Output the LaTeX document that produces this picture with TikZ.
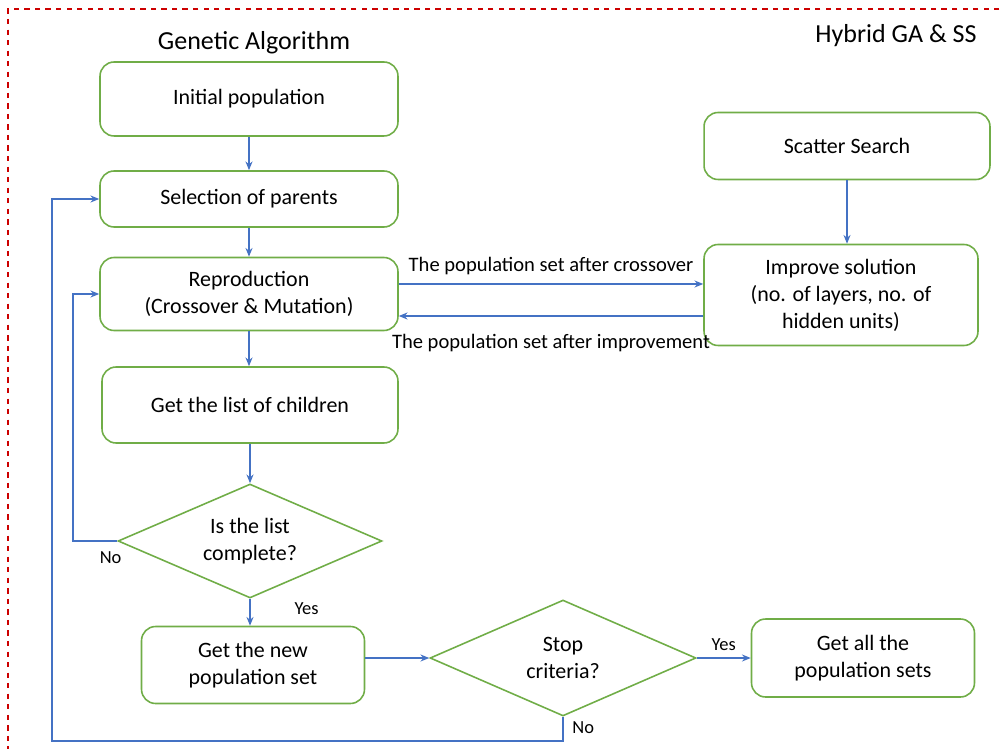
\documentclass[tikz,border=0pt]{standalone}
\usepackage{fontspec}
\setmainfont{Carlito}
\usetikzlibrary{shapes.geometric,arrows.meta}

\definecolor{boxgreen}{RGB}{112,173,71}
\definecolor{flowblue}{RGB}{68,114,196}
\definecolor{framered}{RGB}{204,0,0}

\tikzset{
  stepbox/.style={draw=boxgreen, line width=0.9pt, rounded corners=8pt, fill=white,
    align=center, font=\fontsize{12.5}{15.4}\selectfont, inner sep=2pt},
  choice/.style={draw=boxgreen, line width=0.9pt, diamond, aspect=2.3, inner sep=0pt, align=center,
    font=\fontsize{12.5}{15.4}\selectfont, minimum width=5.28cm, minimum height=2.28cm},
  flow/.style={draw=flowblue, line width=0.7pt, -{Stealth[length=5pt,width=4pt]}},
  lbl/.style={font=\fontsize{11.7}{13}\selectfont, inner sep=1pt},
  tiny/.style={font=\fontsize{10.5}{12}\selectfont, inner sep=1pt}
}

\begin{document}
\begin{tikzpicture}[x=0.02cm, y=-0.02cm]
    \useasboundingbox (0,0) rectangle (1003,749);
    % Frame
    \draw[framered, dashed, line width=0.7pt] (1010,9) -| (8,760);

    % Titles
    \node[font=\fontsize{14.8}{17}\selectfont] (gatitle) at (254,43) {Genetic Algorithm};
    \node[font=\fontsize{14.8}{17}\selectfont] (hytitle) at (896,36) {Hybrid GA \& SS};

    % Nodes
    \node[stepbox, minimum width=5.96cm, minimum height=1.48cm] (init) at (249,99) {Initial population};
    \node[stepbox, minimum width=5.96cm, minimum height=1.12cm] (select) at (249,199) {Selection of parents};
    \node[stepbox, minimum width=5.96cm, minimum height=1.46cm] (repro) at (249,294) {Reproduction\\(Crossover \& Mutation)};
    \node[stepbox, minimum width=5.92cm, minimum height=1.52cm] (children) at (250,405) {Get the list of children};
    \node[choice] (complete) at (250,541) {Is the list\\complete?};
    \node[stepbox, minimum width=4.46cm, minimum height=1.54cm] (newpop) at (253,665) {Get the new\\population set};
    \node[choice, minimum width=5.32cm, minimum height=2.32cm] (stop) at (563,658) {Stop\\criteria?};
    \node[stepbox, minimum width=4.46cm, minimum height=1.56cm] (allsets) at (863,658) {Get all the\\population sets};
    \node[stepbox, minimum width=5.72cm, minimum height=1.34cm] (scatter) at (847,146) {Scatter Search};
    \node[stepbox, minimum width=5.48cm, minimum height=2.02cm] (improve) at (841,295) {Improve solution\\(no. of layers, no. of\\hidden units)};

    \coordinate (nobend) at (73,541);
    \coordinate (stopbend) at (52,741);

    % Edges
    \draw[flow] (init) -- (select);
    \draw[flow] (select) -- (repro);
    \draw[flow] (repro.east |- 0,284) -- node[lbl, above=4pt] {The population set after crossover} (improve.west |- 0,284);
    \draw[flow] (improve.west |- 0,316) -- node[lbl, below=9pt] {The population set after improvement} (repro.east |- 0,316);
    \draw[flow] (scatter.south) -- (scatter.south |- improve.north);
    \draw[flow] (repro.south) -- (repro.south |- children.north);
    \draw[flow] (children.south) -- (children.south |- complete.north);
    \draw[flow] (complete.south) -- node[tiny, pos=0.35, right=24pt] {Yes} (complete.south |- newpop.north);
    \draw[flow] (complete.west) -- (nobend) node[tiny, pos=0.15, below=5pt] {No} |- (repro.west);
    \draw[flow] (newpop.east |- stop.west) -- (stop.west);
    \draw[flow] (stop.east) -- node[tiny, above=3pt] {Yes} (allsets.west);
    \draw[flow] (stop.south) -- (stop.south |- stopbend) node[tiny, pos=0.45, right=4pt] {No} -- (stopbend) |- (select.west);
  \end{tikzpicture}
\end{document}
